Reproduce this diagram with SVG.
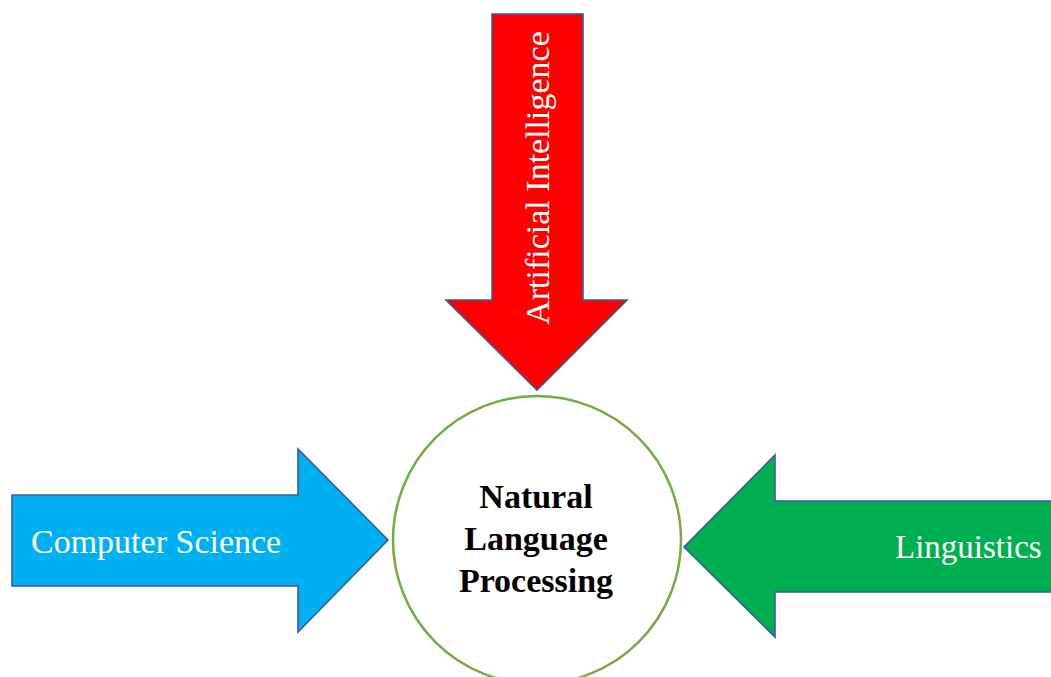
<svg xmlns="http://www.w3.org/2000/svg" width="1051" height="677" viewBox="0 0 1051 677">
  <style>
    .arrow { stroke: #3A5C96; stroke-width: 1.6; stroke-linejoin: miter; }
    .label { font-family: "Liberation Serif", "Times New Roman", serif; fill: #FFFFFF; font-size: 34px; }
    .core { font-family: "Liberation Serif", "Times New Roman", serif; fill: #000000; font-size: 34px; font-weight: bold; text-anchor: middle; }
  </style>
  <rect width="1051" height="677" fill="#FFFFFF"/>

  <!-- central concept -->
  <g id="nlp">
    <circle cx="537" cy="540" r="144" fill="#FFFFFF" stroke="#70AD47" stroke-width="2.5"/>
    <text class="core" x="536" y="508">Natural</text>
    <text class="core" x="536" y="550">Language</text>
    <text class="core" x="536" y="592">Processing</text>
  </g>

  <!-- contributing fields, drawn as block arrows pointing at the centre -->
  <g id="connectors">
    <g id="artificial-intelligence">
      <polygon class="arrow" fill="#FF0000" points="492,14 583,14 583,300 627,300 537,390 446,300 492,300"/>
      <text class="label" transform="translate(549,178) rotate(-90)" text-anchor="middle">Artificial Intelligence</text>
    </g>
    <g id="computer-science">
      <polygon class="arrow" fill="#00B0F0" points="12,495 298,495 298,449 388,540 298,632 298,586 12,586"/>
      <text class="label" x="31" y="553">Computer Science</text>
    </g>
    <g id="linguistics">
      <polygon class="arrow" fill="#00B050" points="1060,501 775,501 775,455 684,547 775,637 775,592 1060,592"/>
      <text class="label" x="895" y="558" style="font-size:33px">Linguistics</text>
    </g>
  </g>
</svg>
